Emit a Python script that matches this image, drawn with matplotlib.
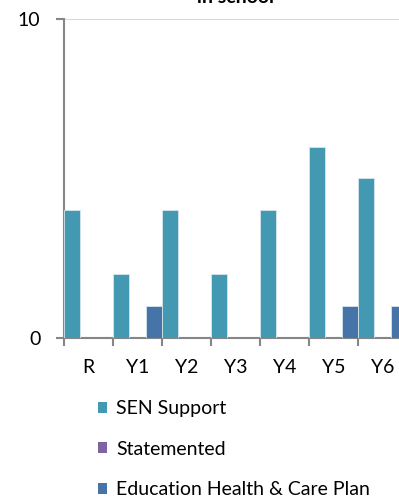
import matplotlib
matplotlib.use('Agg')
import matplotlib.pyplot as plt
from matplotlib.patches import Patch
import numpy as np

# pupils on the SEN register by year group
years = ['R', 'Y1', 'Y2', 'Y3', 'Y4', 'Y5', 'Y6']
sen_support = [4, 2, 4, 2, 4, 6, 5]
statemented = [0, 0, 0, 0, 0, 0, 0]
ehcp = [0, 1, 0, 0, 0, 1, 1]

series_names = ['SEN Support', 'Statemented', 'Education Health & Care Plan']
colors = ['#4399B1', '#8064A2', '#4673A8']

plt.rcParams['font.family'] = ['Lato', 'DejaVu Sans']

fig = plt.figure(figsize=(3.99, 4.97), dpi=100)
ax = fig.add_axes([0.1604, 0.3199, 0.8596, 0.6419])

x = np.arange(len(years))
w = 1 / 3
for k, vals in enumerate([sen_support, statemented, ehcp]):
    bars = ax.bar(x - w + k * w, vals, width=w, color=colors[k],
                  edgecolor='#D5E6EC', linewidth=0.6, zorder=3)
    # empty categories leave no sliver on the axis
    for b, v in zip(bars, vals):
        if v == 0:
            b.set_visible(False)

ax.set_xlim(-0.5, len(years) - 0.5)
ax.set_ylim(0, 10)
ax.set_yticks([0, 10])
ax.yaxis.grid(True, color='#D9D9D9', linewidth=1.5)
ax.set_axisbelow(True)

# labels in the middle of each band, tick marks on the band edges
ax.set_xticks(x)
ax.set_xticklabels(years)
ax.set_xticks(np.arange(len(years)) - 0.5, minor=True)
ax.tick_params(axis='x', which='major', length=0, pad=15, labelsize=14)
ax.tick_params(axis='x', which='minor', length=6, width=1.5, color='#868686')
ax.tick_params(axis='y', length=6, width=1.5, color='#868686', pad=11, labelsize=14)

for side in ['top', 'right']:
    ax.spines[side].set_visible(False)
for side in ['left', 'bottom']:
    ax.spines[side].set_color('#868686')
    ax.spines[side].set_linewidth(1.5)

fig.text(0.59, 1 - 3 / 497, 'in school', ha='center', va='baseline',
         fontsize=14, fontweight='bold')

handles = [Patch(facecolor=c, edgecolor='none') for c in colors]
fig.legend(handles, series_names, loc='upper left', bbox_to_anchor=(0.225, 0.21),
           frameon=False, fontsize=14, handlelength=0.5, handleheight=0.5,
           handletextpad=0.45, labelspacing=1.2, borderaxespad=0)

plt.savefig('out.png', dpi=100)
plt.close()
